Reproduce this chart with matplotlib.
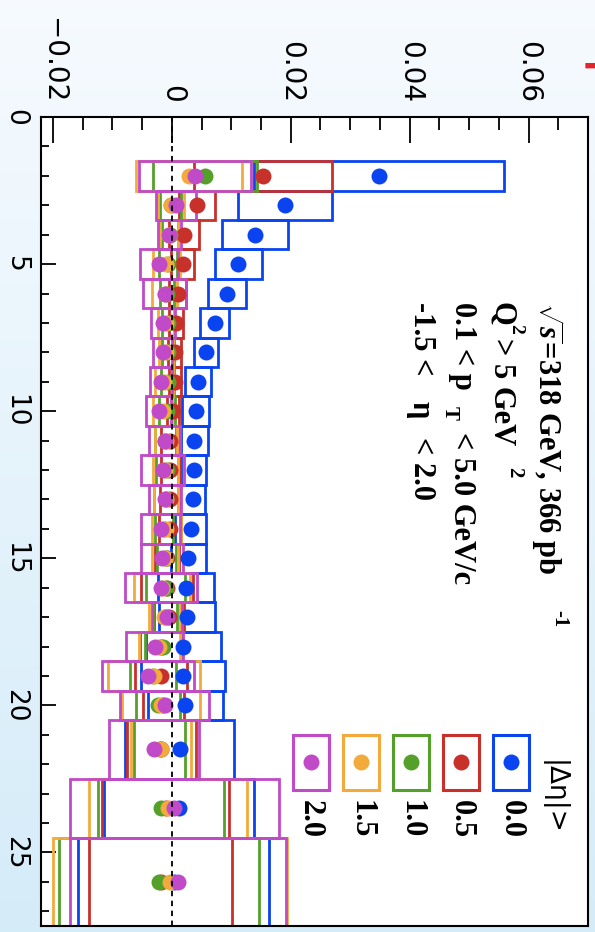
import numpy as np
import matplotlib
matplotlib.use("Agg")
import matplotlib.pyplot as plt
from matplotlib.patches import Rectangle
from matplotlib.ticker import MultipleLocator

# bin edges of the horizontal variable (the chart is shown rotated 90 deg)
bin_edges = [1.5, 2.5, 3.5, 4.5, 5.5, 6.5, 7.5, 8.5, 9.5, 10.5, 11.5, 12.5,
             13.5, 14.5, 15.5, 16.5, 17.5, 18.5, 19.5, 20.5, 22.5, 24.5, 27.5]

deta_labels = ["0.0", "0.5", "1.0", "1.5", "2.0"]
colors = ["#0a44f0", "#c8302a", "#55a02a", "#f2aa3c", "#c04ac8"]

# central values and systematic half widths, in units of 1e-3
val_00 = [34.8, 19.0, 14.0, 11.2, 9.3, 7.2, 5.7, 4.4, 4.0, 3.8, 3.7, 3.5, 3.2,
          2.8, 2.4, 2.5, 1.9, 1.9, 2.3, 1.3, 1.2, 0.3]
sys_00 = [21.0, 7.9, 5.5, 4.0, 3.2, 2.5, 2.0, 2.2, 2.3, 2.3, 2.1, 2.1, 2.6,
          3.0, 4.7, 4.7, 6.3, 7.0, 6.3, 9.1, 12.6, 16.1]
val_05 = [15.3, 4.2, 2.1, 1.8, 1.0, 0.7, 0.5, 0.5, 0.2, -0.3, -0.3, -0.3, -0.3,
          -0.8, -0.8, -0.5, -1.8, -1.8, -1.4, -1.8, -1.0, -1.9]
sys_05 = [11.6, 3.0, 2.5, 1.9, 1.4, 1.1, 1.1, 1.0, 1.0, 1.5, 1.6, 1.7, 1.8,
          2.0, 4.3, 2.5, 3.5, 4.4, 3.5, 5.8, 10.7, 12.1]
val_10 = [5.6, -0.2, -0.3, -0.7, -0.8, -0.7, -0.7, -0.7, -0.8, -1.1, -0.8, -1.0,
          -1.3, -0.9, -1.0, -1.2, -1.5, -3.2, -2.4, -2.0, -1.8, -2.1]
sys_10 = [8.7, 1.8, 1.3, 1.5, 1.2, 1.0, 1.0, 1.1, 1.3, 1.8, 1.8, 2.0, 1.5,
          1.6, 3.3, 2.0, 3.0, 3.9, 3.7, 4.3, 10.6, 16.8]
val_15 = [2.9, -0.2, -0.5, -0.9, -1.2, -1.0, -1.0, -1.3, -1.5, -1.0, -1.1, -1.0,
          -0.9, -1.2, -1.7, -1.3, -2.1, -3.0, -1.8, -1.8, -0.7, -0.3]
sys_15 = [8.9, 2.2, 1.5, 2.2, 2.1, 1.3, 1.2, 1.5, 1.6, 1.8, 2.1, 2.0, 2.4,
          2.2, 4.7, 2.6, 3.5, 7.7, 6.5, 5.0, 13.3, 19.6]
val_20 = [3.9, 0.7, -0.4, -2.2, -1.2, -1.5, -1.5, -1.8, -2.2, -1.2, -1.5, -1.2,
          -1.9, -1.6, -1.8, -0.8, -2.9, -4.0, -1.2, -3.0, 0.45, 1.0]
sys_20 = [9.4, 3.4, 2.0, 3.2, 3.65, 2.0, 1.6, 1.8, 2.1, 2.6, 3.6, 2.7, 3.2,
          3.5, 6.0, 2.5, 4.8, 7.7, 7.5, 7.6, 17.6, 18.2]

values = [val_00, val_05, val_10, val_15, val_20]
systs = [sys_00, sys_05, sys_10, sys_15, sys_20]

xtick_vals = [-0.02, 0, 0.02, 0.04, 0.06]
xtick_labels = ["\u22120.02", "0", "0.02", "0.04", "0.06"]
ytick_vals = [0, 5, 10, 15, 20, 25]

plt.rcParams['mathtext.fontset'] = 'custom'
plt.rcParams['mathtext.rm'] = 'Liberation Serif:bold'
plt.rcParams['mathtext.it'] = 'Liberation Serif:italic:bold'
plt.rcParams['mathtext.bf'] = 'Liberation Serif:bold'

W, H = 595, 932
fig = plt.figure(figsize=(W / 100, H / 100), dpi=100)


def fx(x):
    return x / W


def fy(y):
    return 1 - y / H


# slide background
bg = fig.add_axes([0, 0, 1, 1], zorder=-10)
t = np.linspace(0, 1, 200)[:, None, None]
c_top = np.array([0.965, 0.982, 0.998])
c_bot = np.array([0.835, 0.925, 0.975])
bg.imshow(c_top + (c_bot - c_top) * t, aspect='auto', extent=[0, 1, 0, 1])
bg.axis('off')

ax = fig.add_axes([fx(41), fy(926), (588 - 41) / W, (926 - 117) / H])
ax.set_facecolor('white')
ax.set_xlim(-0.022, 0.070)
ax.set_ylim(27.5, 0)

lo = np.array(bin_edges[:-1])
hi = np.array(bin_edges[1:])
mid = (lo + hi) / 2

for vals, sy, c in zip(values, systs, colors):
    v = np.array(vals) * 1e-3
    s = np.array(sy) * 1e-3
    for vi, si, l, h in zip(v, s, lo, hi):
        ax.add_patch(Rectangle((vi - si, l), 2 * si, h - l, fill=False,
                               ec=c, lw=2.0, zorder=2))
for vals, c in zip(values, colors):
    ax.plot(np.array(vals) * 1e-3, mid, 'o', color=c, ms=11.5, mec='none',
            zorder=3)

ax.axvline(0, color='k', ls=(0, (3, 2.5)), lw=1.3, zorder=4)

ax.xaxis.tick_top()
ax.set_xticks(xtick_vals)
ax.set_xticklabels(xtick_labels, rotation=-90, fontsize=20)
ax.xaxis.set_minor_locator(MultipleLocator(0.005))
ax.tick_params(axis='x', which='both', direction='in', top=True, bottom=False,
               width=1.3)
ax.tick_params(axis='x', which='major', length=19, pad=10)
ax.tick_params(axis='x', which='minor', length=9.5)

ax.set_yticks(ytick_vals)
ax.set_yticklabels([str(v) for v in ytick_vals], rotation=-90, fontsize=19)
for lbl in ax.get_yticklabels():
    lbl.set_va('center')
ax.yaxis.set_minor_locator(MultipleLocator(1))
ax.tick_params(axis='y', which='both', direction='in', left=True, right=False,
               width=1.3)
ax.tick_params(axis='y', which='major', length=11, pad=9)
ax.tick_params(axis='y', which='minor', length=5.5)
for sp in ax.spines.values():
    sp.set_linewidth(1.5)

# annotation text (rotated like the chart)
serif = dict(family='Liberation Serif', weight='bold', rotation=-90,
             rotation_mode='anchor', ha='left', va='center', color='black')
pieces = [
    (547, 302, r"$\sqrt{s}$=318 GeV, 366 pb", 22),
    (559, 610, "-1", 15),
    (502, 302, "Q", 22),
    (516, 324, "2", 14),
    (502, 338, "> 5 GeV", 22),
    (514, 467, "2", 15),
    (462, 302, "0.1 < p", 22),
    (450, 406, "T", 15),
    (462, 432, "< 5.0 GeV/c", 22),
    (422, 302, "-1.5 < ", 22),
    (420, 401, "\u03b7", 22),
    (422, 437, "< 2.0", 22),
]
for x, y, s, size in pieces:
    fig.text(fx(x), fy(y), s, fontsize=size, **serif)

# legend
fig.text(fx(553), fy(760), "|\u0394\u03b7|>", family='DejaVu Sans',
         fontsize=19, rotation=-90, rotation_mode='anchor', ha='left',
         va='center')
leg_x = [511, 461, 410.5, 360.5, 310.7]
for xc, c, lab in zip(leg_x, colors, deta_labels):
    fig.add_artist(Rectangle((fx(xc - 18), fy(790)), 36 / W, 55 / H,
                             fill=True, fc='white', ec=c, lw=2.2,
                             transform=fig.transFigure))
    fig.add_artist(plt.Line2D([fx(xc)], [fy(762)], marker='o', ms=11.5,
                              color=c, mec='none', transform=fig.transFigure))
    fig.text(fx(xc), fy(800), lab, fontsize=22, **serif)

fig.text(fx(598), fy(67), "+", color='#e3262d', fontsize=30,
         fontweight='bold', ha='center', va='center')

fig.savefig("out.png", dpi=100)
